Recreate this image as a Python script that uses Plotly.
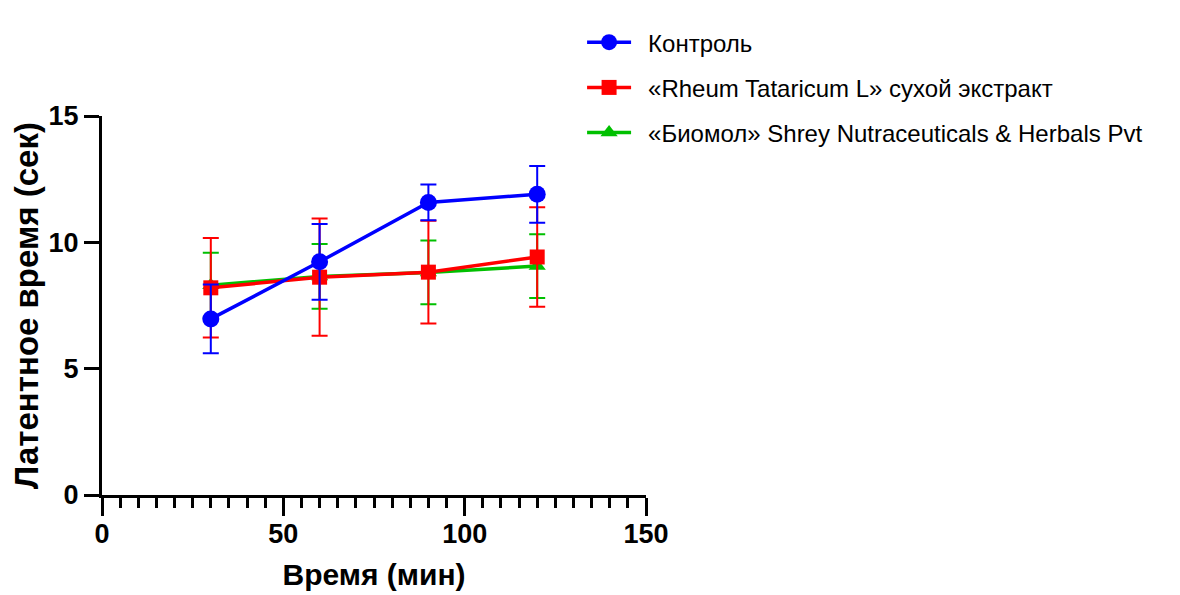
import plotly.graph_objects as go

time_min = [30, 60, 90, 120]

control = [6.97, 9.23, 11.58, 11.9]
control_err = [1.36, 1.5, 0.71, 1.12]

rheum = [8.2, 8.62, 8.82, 9.42]
rheum_err = [1.97, 2.32, 2.03, 1.97]

biomol = [8.3, 8.65, 8.81, 9.06]
biomol_err = [1.29, 1.28, 1.26, 1.26]

names = ["Контроль", "«Rheum Tataricum L» сухой экстракт",
         "«Биомол» Shrey Nutraceuticals & Herbals Pvt"]

FONT = "Liberation Sans, Arial, sans-serif"

fig = go.Figure()

def add(y, err, name, color, symbol, size, rank):
    fig.add_trace(go.Scatter(
        x=time_min, y=y, name="\u2002" + name, mode="lines+markers",
        line=dict(color=color, width=3.5),
        marker=dict(color=color, symbol=symbol, size=size),
        error_y=dict(type="data", array=err, visible=True, color=color,
                     thickness=2, width=8),
        legendrank=rank, legendgroup=name,
    ))

add(biomol, biomol_err, names[2], "#00C000", "triangle-up", 15, 3)
add(rheum, rheum_err, names[1], "#FF0000", "square", 15, 2)
add(control, control_err, names[0], "#0000FF", "circle", 17, 1)

tickfont = dict(family=FONT, size=27, color="black", weight="bold")

# the page body adds an 8px margin, so the figure is 8px smaller
fig.update_layout(
    width=1172, height=587,
    paper_bgcolor="white", plot_bgcolor="white",
    margin=dict(l=94, r=534, t=108, b=100),
    font=dict(family=FONT, color="black"),
    legend=dict(x=0.8825, y=1.253, xanchor="left", yanchor="top",
                font=dict(size=24, family=FONT, color="black"),
                tracegroupgap=11, itemwidth=44, bgcolor="rgba(0,0,0,0)"),
    xaxis=dict(
        range=[0, 150], tickvals=[0, 50, 100, 150],
        ticks="outside", ticklen=18, tickwidth=3, tickcolor="black",
        showline=True, linewidth=3, linecolor="black",
        showgrid=False, zeroline=False, automargin=False,
        tickfont=tickfont, ticklabelstandoff=-5,
        minor=dict(dtick=5, ticks="outside", ticklen=10, tickwidth=2.5,
                   tickcolor="black", showgrid=False),
        title=dict(text="<b>Время (мин)</b>",
                   font=dict(size=30, family=FONT, color="black"), standoff=16),
    ),
    yaxis=dict(
        range=[0, 15], tickvals=[0, 5, 10, 15],
        ticks="outside", ticklen=15, tickwidth=3, tickcolor="black",
        showline=True, linewidth=3, linecolor="black",
        showgrid=False, zeroline=False, automargin=False,
        tickfont=tickfont,
        title=dict(text="<b>Латентное время (сек)</b>",
                   font=dict(size=33, family=FONT, color="black"), standoff=15),
    ),
)

fig.write_html("out.html")
